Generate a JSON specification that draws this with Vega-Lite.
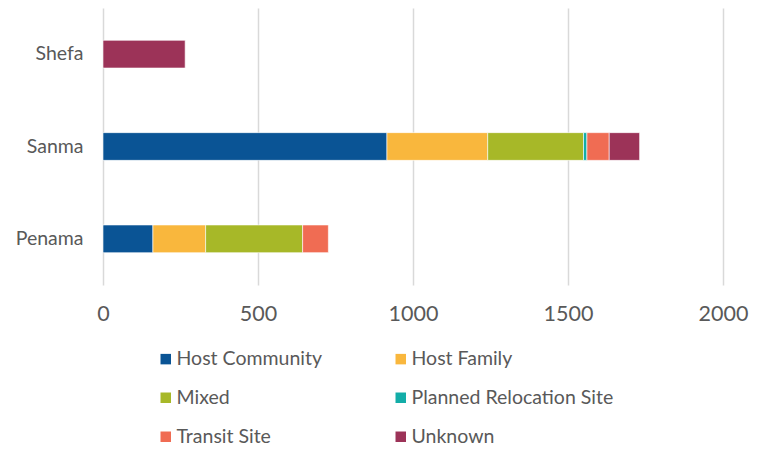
{
  "$schema": "https://vega.github.io/schema/vega-lite/v6.json",
  "autosize": "none",
  "width": 620,
  "height": 277,
  "padding": {"left": 103, "top": 8, "right": 42, "bottom": 165},
  "config": {"view": {"stroke": null}, "font": "Lato"},
  "data": {"values": [
    {"province": "Shefa", "type": "Unknown", "count": 265},
    {"province": "Sanma", "type": "Host Community", "count": 916},
    {"province": "Sanma", "type": "Host Family", "count": 325},
    {"province": "Sanma", "type": "Mixed", "count": 309},
    {"province": "Sanma", "type": "Planned Relocation Site", "count": 11},
    {"province": "Sanma", "type": "Transit Site", "count": 72},
    {"province": "Sanma", "type": "Unknown", "count": 98},
    {"province": "Penama", "type": "Host Community", "count": 161},
    {"province": "Penama", "type": "Host Family", "count": 170},
    {"province": "Penama", "type": "Mixed", "count": 313},
    {"province": "Penama", "type": "Transit Site", "count": 83}
  ]},
  "mark": {"type": "bar", "stroke": "white", "strokeWidth": 0.6},
  "encoding": {
    "y": {"field": "province", "type": "nominal", "sort": ["Shefa", "Sanma", "Penama"],
      "scale": {"paddingInner": 0.7, "paddingOuter": 0.35},
      "axis": {"title": null, "domain": false, "ticks": false, "labelFontSize": 19.5, "labelColor": "#595959", "labelPadding": 20, "grid": false}},
    "x": {"field": "count", "type": "quantitative", "stack": "zero",
      "scale": {"domain": [0, 2000]},
      "axis": {"title": null, "domain": false, "ticks": false, "values": [0, 500, 1000, 1500, 2000], "format": "d", "labelFlush": false, "labelFontSize": 21.5, "labelColor": "#595959", "labelPadding": 18, "gridColor": "#d9d9d9", "gridWidth": 1.5}},
    "color": {"field": "type", "type": "nominal",
      "scale": {"domain": ["Host Community", "Host Family", "Mixed", "Planned Relocation Site", "Transit Site", "Unknown"],
        "range": ["#0A5495", "#F9B73D", "#A7B828", "#13ADA8", "#F06C53", "#9C3358"]},
      "legend": {"title": null, "orient": "none", "direction": "horizontal", "legendX": 53, "legendY": 341, "columns": 2, "columnPadding": 68, "rowPadding": 18, "symbolType": "square", "symbolSize": 110, "symbolStrokeWidth": 0, "labelFontSize": 19.5, "labelLimit": 400, "labelColor": "#595959", "labelOffset": 1}},
    "order": {"field": "type"}
  }
}
